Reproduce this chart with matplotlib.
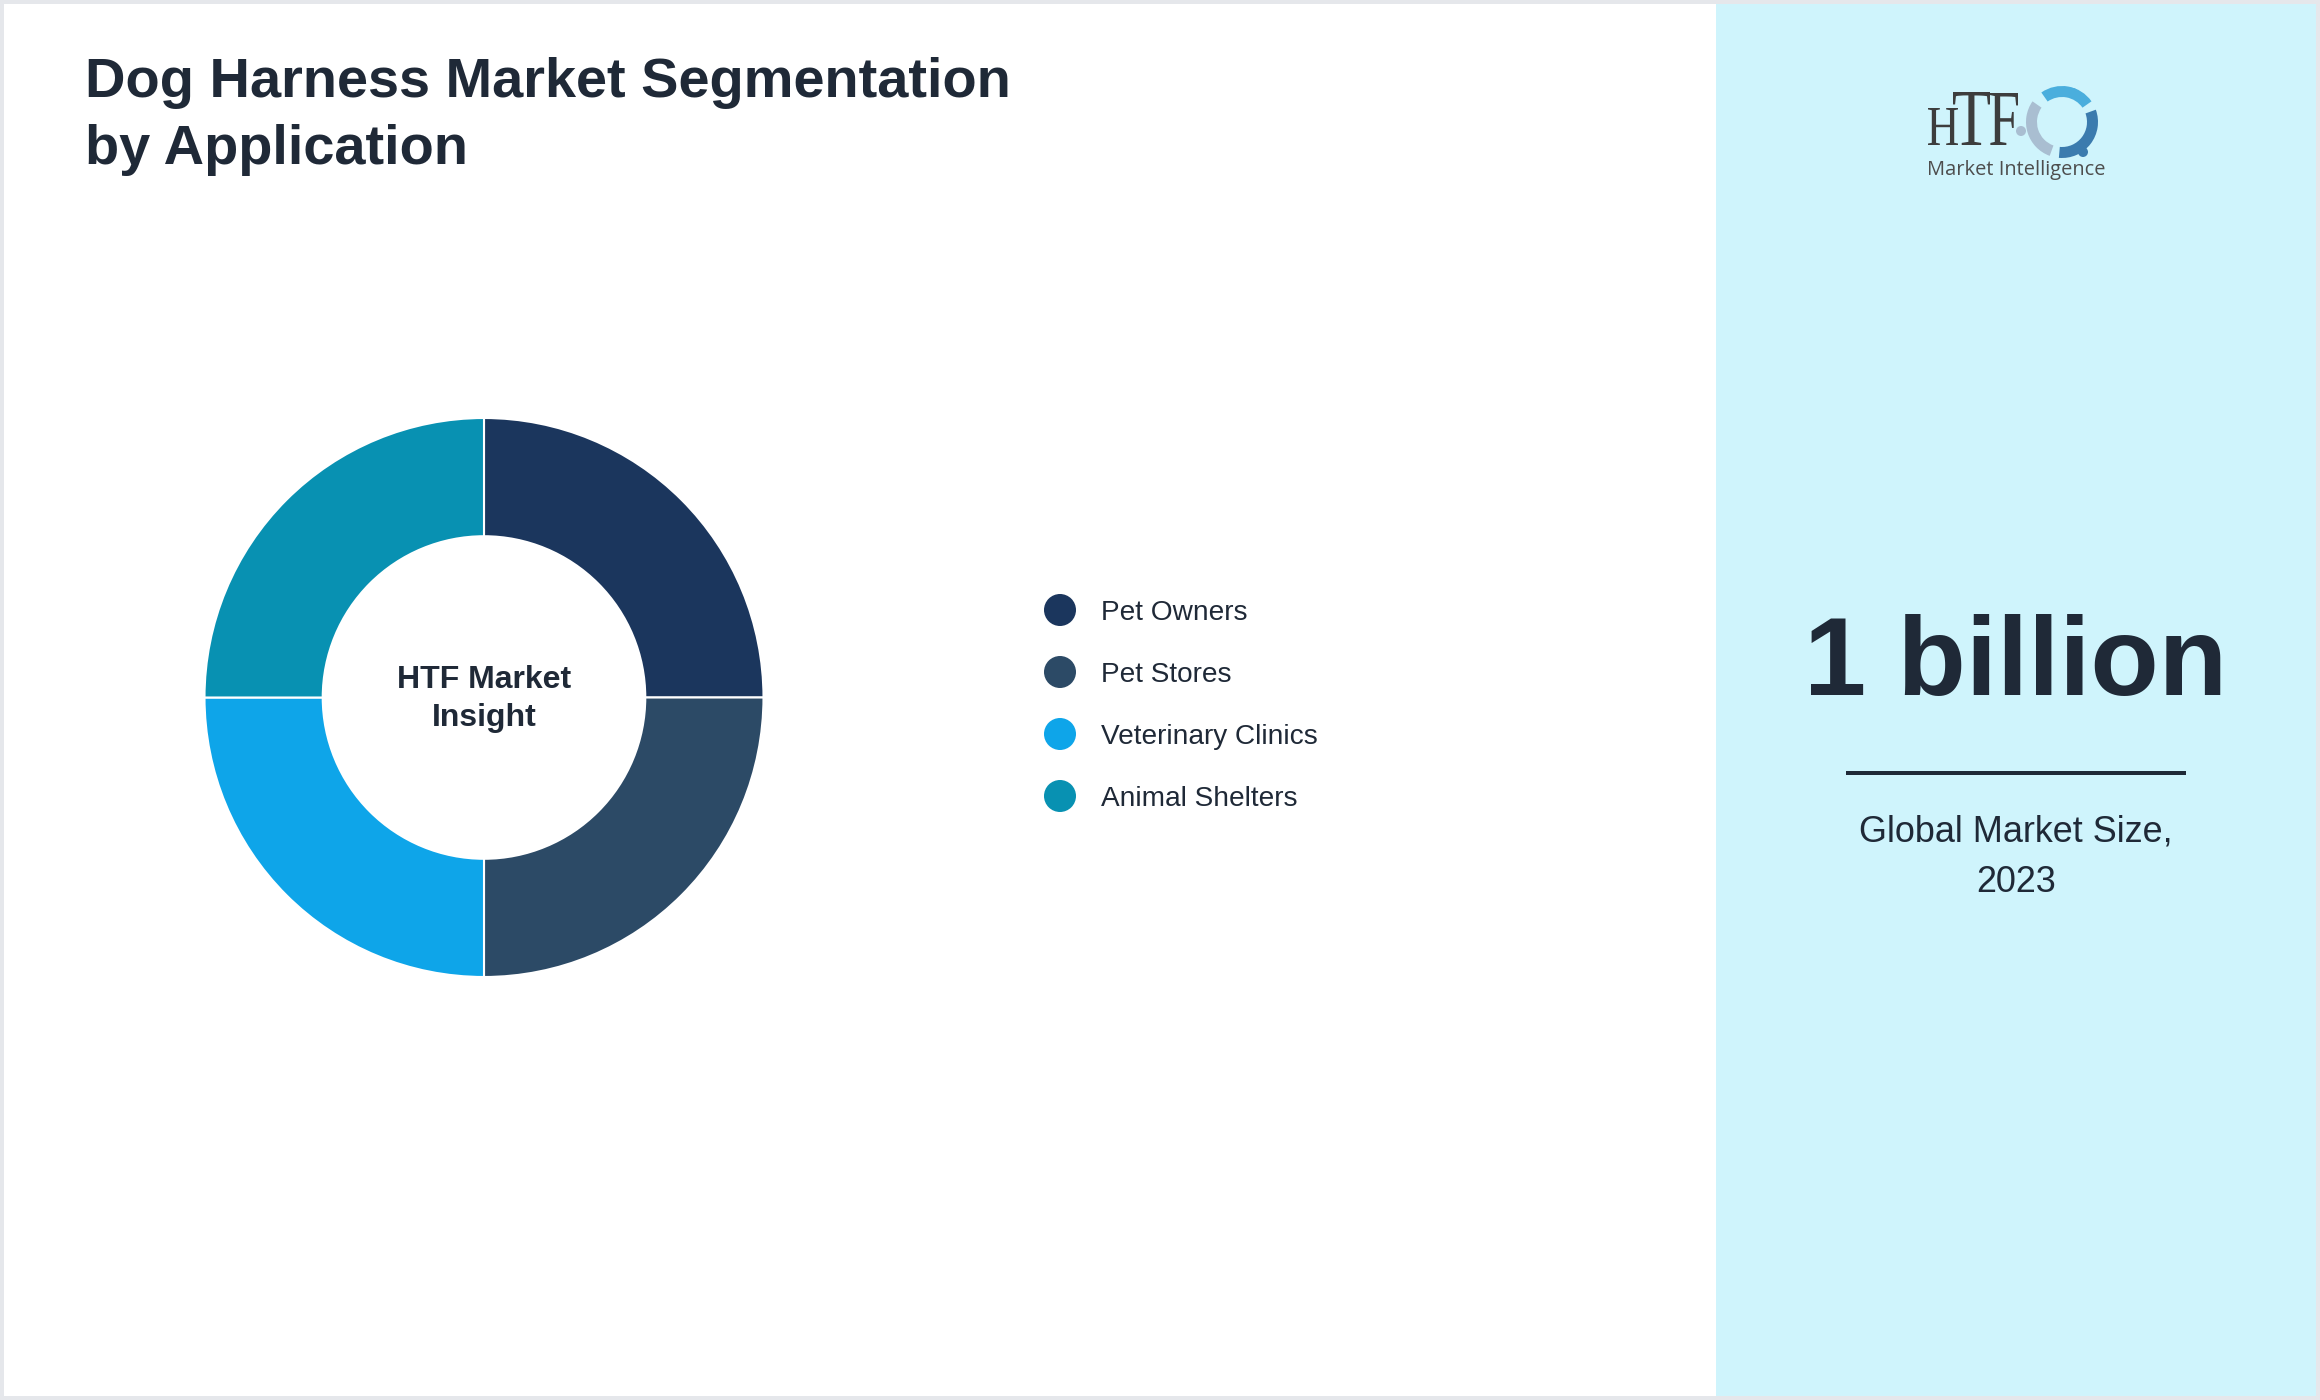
import matplotlib
matplotlib.use('Agg')
import matplotlib.pyplot as plt
from matplotlib.patches import Rectangle, Circle, Wedge, PathPatch
from matplotlib.textpath import TextPath
from matplotlib.font_manager import FontProperties
from matplotlib.transforms import Affine2D

# ── 畫布 (px) ──
W, H = 2320, 1400
DPI = 100
PT = 72 / DPI          # px -> pt

TEXT   = '#1F2937'
PANEL  = '#CFF4FC'
BORDER = '#E5E7EB'

# ── 資料 ──
title_lines = ['Dog Harness Market Segmentation', 'by Application']
categories  = ['Pet Owners', 'Pet Stores', 'Veterinary Clinics', 'Animal Shelters']
shares      = [25, 25, 25, 25]
colors      = ['#1B365D', '#2C4A66', '#0EA5E9', '#0891B2']
center_lines  = ['HTF Market', 'Insight']
market_size   = '1 billion'
caption_lines = ['Global Market Size,', '2023']

plt.rcParams['font.family'] = ['Liberation Sans', 'DejaVu Sans']

fig = plt.figure(figsize=(W / DPI, H / DPI), dpi=DPI, facecolor='white')

# 全幅座標軸，像素座標，y 向下
bg = fig.add_axes([0, 0, 1, 1])
bg.set_xlim(0, W); bg.set_ylim(H, 0); bg.axis('off')

# ── 右側面板 + 外框 ──
bg.add_patch(Rectangle((1716, 4), W - 4 - 1716, H - 8, facecolor=PANEL, edgecolor='none'))
bg.add_patch(Rectangle((2, 2), W - 4, H - 4, fill=False, edgecolor=BORDER, linewidth=4 * PT))

# ── 標題 ──
for i, line in enumerate(title_lines):
    bg.text(85, 97 + i * 67, line, color=TEXT, fontsize=56 * PT, fontweight='bold',
            ha='left', va='baseline')

# ── 甜甜圈 ──
cx, cy, R = 484, 697.5, 279.5
ax_pie = fig.add_axes([(cx - R) / W, (H - cy - R) / H, 2 * R / W, 2 * R / H])
ax_pie.pie(shares, colors=colors, startangle=90, counterclock=False, radius=1,
           wedgeprops=dict(width=0.423, edgecolor='white', linewidth=1.5))
ax_pie.set_xlim(-1, 1); ax_pie.set_ylim(-1, 1)
ax_pie.set_aspect('equal'); ax_pie.axis('off')

for i, line in enumerate(center_lines):
    bg.text(cx, 688 + i * 38, line, color=TEXT, fontsize=32 * PT, fontweight='bold',
            ha='center', va='baseline')

# ── 圖例 ──
for i, (name, clr) in enumerate(zip(categories, colors)):
    yc = 610 + i * 62
    bg.add_patch(Circle((1060, yc), 16, facecolor=clr, edgecolor='none'))
    bg.text(1101, yc + 10, name, color=TEXT, fontsize=28 * PT, ha='left', va='baseline')

# ── 右側 KPI ──
px = 2016
bg.text(px, 695, market_size, color=TEXT, fontsize=112 * PT, fontweight='bold',
        ha='center', va='baseline')
bg.plot([1846, 2186], [773, 773], color=TEXT, linewidth=4 * PT, solid_capstyle='butt')
for i, line in enumerate(caption_lines):
    bg.text(px, 842 + i * 50, line, color=TEXT, fontsize=36 * PT,
            ha='center', va='baseline')

# ── Logo ──
serif = FontProperties(family='Liberation Serif')
for ch, (x0, y0, x1, y1) in [('H', (1928, 108, 1958, 145)),
                             ('T', (1953, 92, 1990, 145)),
                             ('F', (1990, 93, 2018, 145))]:
    tp = TextPath((0, 0), ch, size=1, prop=serif)
    ext = tp.get_extents()
    tr = (Affine2D().translate(-ext.x0, -ext.y0)
          .scale((x1 - x0) / ext.width, -(y1 - y0) / ext.height)
          .translate(x0, y1))
    bg.add_patch(PathPatch(tr.transform_path(tp), facecolor='#3D3D3D', edgecolor='none'))

bg.text(1927, 175, 'Market Intelligence', color='#4D4D4D', fontsize=20 * PT,
        family=['Open Sans', 'DejaVu Sans'], ha='left', va='baseline')

lc = (2062, 122)
bg.add_patch(Wedge(lc, 36, 235, 325, width=11, facecolor='#4AAEDD', edgecolor='none'))
bg.add_patch(Wedge(lc, 36, 110, 215, width=11, facecolor='#A9BED1', edgecolor='none'))
bg.add_patch(Wedge(lc, 36, -20, 95, width=11, facecolor='#3B7BAE', edgecolor='none'))
bg.add_patch(Circle((2073, 93), 5, facecolor='#4AAEDD', edgecolor='none'))
bg.add_patch(Circle((2021, 131), 5, facecolor='#A9BED1', edgecolor='none'))
bg.add_patch(Circle((2083, 152), 5, facecolor='#3B7BAE', edgecolor='none'))

fig.savefig('out.png', dpi=DPI, facecolor='white')
plt.close()
